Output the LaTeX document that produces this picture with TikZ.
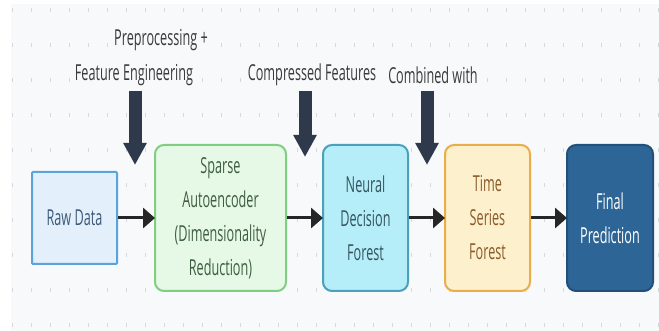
\documentclass[tikz,border=0pt]{standalone}
\usepackage{fontspec}
\setmainfont{Open Sans}[FakeStretch=0.575]
\usetikzlibrary{arrows.meta}

\definecolor{canvas}{HTML}{F8F9FB}
\definecolor{dotc}{HTML}{D6D9DE}
\definecolor{rawfill}{HTML}{E3EFFB}
\definecolor{rawline}{HTML}{5BA3DB}
\definecolor{rawtext}{HTML}{3C5A78}
\definecolor{saefill}{HTML}{E6F8E6}
\definecolor{saeline}{HTML}{80CF80}
\definecolor{saetext}{HTML}{3F5D40}
\definecolor{ndffill}{HTML}{B5EEF8}
\definecolor{ndfline}{HTML}{4BA0BB}
\definecolor{ndftext}{HTML}{35545E}
\definecolor{tsffill}{HTML}{FDF0CC}
\definecolor{tsfline}{HTML}{E9AD4C}
\definecolor{tsftext}{HTML}{8B5A2B}
\definecolor{finfill}{HTML}{2C6596}
\definecolor{finline}{HTML}{23507A}
\definecolor{navy}{HTML}{2E3A4B}
\definecolor{labeltext}{HTML}{3A3A3A}

\tikzset{
  stage/.style={draw, line width=2pt, rounded corners=9pt, align=center,
    inner sep=0pt, font=\fontsize{22}{34}\selectfont},
  note/.style={font=\fontsize{22}{34}\selectfont, text=labeltext, fill=canvas,
    inner sep=1pt},
  flow/.style={line width=3pt, draw=black!85,
    -{Triangle[width=20pt,length=12pt]}, shorten >=-1pt},
  feed/.style={line width=13pt, draw=navy,
    -{Triangle[width=22pt,length=22pt]}},
}

\begin{document}
\begin{tikzpicture}[x=1pt, y=-1pt]
  \useasboundingbox (0,0) rectangle (659,331);
  \fill[white] (0,0) rectangle (659,331);
  \fill[canvas] (11,4) rectangle (659,331);

  % dotted grid
  \foreach \r in {0,...,9}
    \foreach \c in {0,...,34}
      \fill[dotc] ({12.7+19*\c-0.7},{10+35*\r-1.6}) rectangle ++(1.4,3.2);

  % pipeline stages
  \node[stage, rounded corners=1pt, draw=rawline, fill=rawfill, text=rawtext,
        minimum width=85pt, minimum height=92pt] (raw) at (74.5,218) {Raw Data};
  \node[stage, draw=saeline, fill=saefill, text=saetext,
        minimum width=131pt, minimum height=146pt] (sae) at (220.5,218)
        {Sparse\\Autoencoder\\(Dimensionality\\Reduction)};
  \node[stage, draw=ndfline, fill=ndffill, text=ndftext,
        minimum width=85pt, minimum height=146pt] (ndf) at (365.5,218)
        {Neural\\Decision\\Forest};
  \node[stage, draw=tsfline, fill=tsffill, text=tsftext,
        minimum width=85pt, minimum height=146pt] (tsf) at (487.5,218)
        {Time\\Series\\Forest};
  \node[stage, draw=finline, fill=finfill, text=white,
        minimum width=86pt, minimum height=146pt] (fin) at (610,218)
        {Final\\Prediction};

  % main flow
  \draw[flow] (raw) -- (sae);
  \draw[flow] (sae) -- (ndf);
  \draw[flow] (ndf) -- (tsf);
  \draw[flow] (tsf) -- (fin);

  % side annotations
  \node[note] (pre1) at (161,40) {Preprocessing +};
  \node[note] (pre2) at (134,75) {Feature Engineering};
  \node[note] (cmp) at (312,75) {Compressed Features};
  \node[note] (cmb) at (433,75) {Combined with};

  \coordinate (preTop) at (135,91);
  \coordinate (preTip) at (135,165);
  \coordinate (cmpTop) at (305,91);
  \coordinate (cmpTip) at (305,157);
  \coordinate (cmbTop) at (427,91);
  \coordinate (cmbTip) at (427,165);
  \draw[feed] (preTop) -- (preTip);
  \draw[feed] (cmpTop) -- (cmpTip);
  \draw[feed] (cmbTop) -- (cmbTip);
\end{tikzpicture}
\end{document}
